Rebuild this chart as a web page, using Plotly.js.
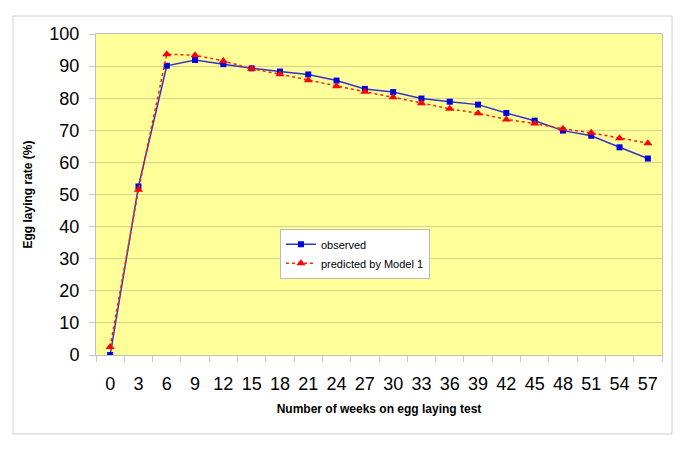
<!DOCTYPE html>
<html>
<head>
<meta charset="utf-8">
<script src="https://cdn.plot.ly/plotly-3.0.1.min.js"></script>
<style>html,body{margin:0;padding:0;background:#fff;}#chart{width:685px;height:449px;}</style>
</head>
<body>
<div id="chart"></div>
<script>
var weeks = ["0","3","6","9","12","15","18","21","24","27","30","33","36","39","42","45","48","51","54","57"];
var observed = [0, 52.5, 90.1, 91.9, 90.6, 89.3, 88.3, 87.4, 85.5, 82.9, 81.9, 79.9, 78.9, 78.0, 75.4, 73.0, 69.9, 68.3, 64.7, 61.2];
var predicted = [2.5, 51.5, 93.7, 93.4, 91.6, 89.2, 87.5, 85.6, 83.7, 82.0, 80.3, 78.4, 76.7, 75.3, 73.4, 72.1, 70.5, 69.2, 67.5, 66.0];
var yTicks = [0,10,20,30,40,50,60,70,80,90,100];

var traces = [
  {x: weeks, y: observed, type: 'scatter', mode: 'lines+markers', name: 'observed',
   line: {color: '#3333cc', width: 1.5},
   marker: {symbol: 'square', size: 6, color: '#0000dd', line: {width: 0}}},
  {x: weeks, y: predicted, type: 'scatter', mode: 'lines+markers', name: 'predicted by Model 1',
   line: {color: '#ff2200', width: 1.5, dash: 'dot'},
   marker: {symbol: 'triangle-up', size: 8, color: '#ff0000', line: {width: 0}}}
];

var layout = {
  width: 685, height: 449,
  margin: {l: 96, r: 23, t: 34, b: 94},
  paper_bgcolor: '#ffffff',
  plot_bgcolor: '#ffff99',
  font: {family: 'Liberation Sans, Arial, sans-serif', color: '#000'},
  showlegend: true,
  legend: {x: 0.325, y: 0.393, xanchor: 'left', yanchor: 'top',
    bgcolor: '#ffffff', bordercolor: '#bbbbbb', borderwidth: 1,
    font: {size: 11, family: 'Liberation Sans, Arial, sans-serif'},
    tracegroupgap: 0, itemwidth: 30},
  xaxis: {
    type: 'category', range: [-0.5, 19.5],
    tickvals: weeks, ticktext: weeks, tickangle: 0,
    tickson: 'boundaries', ticks: 'outside', ticklen: 6, tickcolor: '#c8c8c8',
    ticklabelstandoff: 12,
    tickfont: {size: 18},
    showgrid: false, zeroline: false,
    showline: true, linecolor: '#c0c0c0', linewidth: 1, mirror: true,
    title: {text: 'Number of weeks on egg laying test', font: {size: 12, weight: 'bold'}, standoff: 12},
    automargin: false, fixedrange: true
  },
  yaxis: {
    range: [0, 100], tickvals: yTicks,
    ticks: 'outside', ticklen: 6, tickcolor: '#c8c8c8',
    ticklabelstandoff: 6,
    tickfont: {size: 18},
    showgrid: true, gridcolor: 'rgba(160,160,140,0.45)', gridwidth: 1,
    zeroline: false,
    showline: true, linecolor: '#c0c0c0', linewidth: 1, mirror: true,
    title: {text: 'Egg laying rate (%)', font: {size: 12, weight: 'bold'}, standoff: 14},
    automargin: false, fixedrange: true
  },
  shapes: [
    {type: 'rect', xref: 'paper', yref: 'paper', x0: -0.1466, x1: 1.0177, y0: -0.246, y1: 1.056,
     line: {color: '#d0d0d0', width: 1}, fillcolor: 'rgba(0,0,0,0)', layer: 'below'}
  ]
};

Plotly.newPlot('chart', traces, layout, {displayModeBar: false, staticPlot: true});
</script>
</body>
</html>
